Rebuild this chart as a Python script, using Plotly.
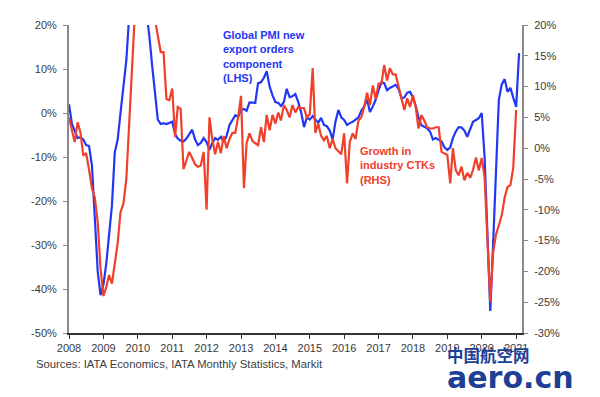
import pandas as pd
import plotly.graph_objects as go

# Global PMI new export orders component, % (LHS), monthly Jan 2008 - Feb 2021
pmi_export = [
    2, -2.5, -4, -5.7, -5.5, -6, -7.3, -7.5, -12, -24, -36, -41.4,
    -39, -34, -28, -21, -9, -6, 0, 5.5, 12, 22, 28, 32,
    33, 31, 28, 23, 18, 11, 5, -1.5, -2.5, -2.3, -2.5, -2.2,
    -2, -4.8, -5.8, -6.3, -6.5, -5.8, -4.8, -3.8, -6, -7.3, -6.8, -5.7,
    -6.6, -8.4, -6.8, -5.7, -6.1, -5.4, -6.6, -5.2, -2.7, -1.6, -0.5, -0.9,
    0.7, 0.9, 0.5, 2.4, 2.3, 2.3, 6.8, 7, 8, 9.5, 6, 4,
    2.5, 2.3, 1.6, 2.5, 5.5, 3.6, 3.8, 4.3, 2.5, 0.2, -3.2, -1,
    -1.5, -0.7, -1.5, -2.2, -1.1, -2.7, -3, -4, -6, -2, 0.7, -1,
    -1.6, -2.7, -2.3, -2, -1.5, -1, 0.5, 1.5, 3, 0.2, 1.5, 3,
    5.2, 7, 6.8, 5.2, 5.7, 6, 6.4, 5.5, 3.4, 3.5, 4.6, 4.8,
    3.6, 1.5, -1, -2.8, -3.2, -3.5, -4.2, -6, -5.7, -6.1, -6.5, -7.8,
    -8.4, -7.8, -5.7, -4.2, -3.2, -3.3, -4, -5.4, -3.4, -2, -1.6, -1.2,
    0, -10, -27, -45, -30, -14, 3, 6.5, 7.7, 4.8, 5.7, 3.5,
    1.4, 13.6,
]

# Growth in industry CTKs, % (RHS), monthly Jan 2008 - Jan 2021
ctk_growth = [
    5, 3, 1, 4.2, 2.6, -1.2, -0.8, -3.5, -6.5, -8, -12, -19.5,
    -24, -22.5, -20.6, -22, -18.7, -15.4, -10.4, -9, -5, 4, 13, 22,
    27, 28, 26, 25, 24, 23, 21, 18.5, 15.6, 15.6, 8, 7.8,
    9.7, 1.8, 6.7, 6.4, -3.4, -2, -0.6, -1.6, -2.6, -3, -2.8, -0.6,
    -10, 5, 1.5, -1, 1, -0.8, 2, 0, 1.5, 2.5, 2.5, 5,
    8.5, -6.5, 0.8, 2.4, 1.2, 0.8, 0.5, 3.4, 1, 5.4, 2.9, 5.4,
    4, 5.8, 4.5, 7, 6.2, 5, 7, 5.8, 6.7, 6.5, 6.5, 5,
    5.5, 13, 2.5, 4, 2, 1.3, 2, 0, 1.5, 0, -0.5, -1,
    2.4, -5.7, 1, 2.4, 1.5, 4.5, 5, 6.7, 9, 7, 10.2, 8,
    10.5, 10.5, 13.5, 11, 13, 12, 12, 10, 8, 6.2, 8.1, 6.7,
    8.6, 6.5, 3.2, 5.4, 4.5, 3.4, 3.2, 3.2, 3.4, 3.4, -0.6, -0.8,
    -1.1, -5.7, 0, -3.6, -4.4, -3, -5.2, -4, -4.8, -3.5, -1.5, -3.6,
    -1.6, -4.7, -15, -25, -17, -14, -12.5, -10.9, -8, -6.3, -6, -3.2,
    6.2,
]

year_ticks = list(range(2008, 2022))
lhs_ticks = [-50, -40, -30, -20, -10, 0, 10, 20]
rhs_ticks = [-30, -25, -20, -15, -10, -5, 0, 5, 10, 15, 20]

dates_pmi = pd.date_range("2008-01-01", periods=len(pmi_export), freq="MS")
dates_ctk = pd.date_range("2008-01-01", periods=len(ctk_growth), freq="MS")

BLUE = "#2236f5"
RED = "#f0402a"
AXIS_GREY = "#8a8a8a"
FONT = "Liberation Sans, Arial, sans-serif"

fig = go.Figure()
fig.add_trace(go.Scatter(x=dates_pmi, y=pmi_export, mode="lines",
                         line=dict(color=BLUE, width=2.2), yaxis="y",
                         name="Global PMI new export orders component (LHS)"))
fig.add_trace(go.Scatter(x=dates_ctk, y=ctk_growth, mode="lines",
                         line=dict(color=RED, width=2.2), yaxis="y2",
                         name="Growth in industry CTKs (RHS)"))

L, R, T, B = 69, 78, 25, 64
W, H = 600, 397
pw, ph = W - L - R, H - T - B


def px(xp):
    return (xp - L) / pw


def py(yp):
    return (H - B - yp) / ph


fig.update_layout(
    width=W, height=H,
    margin=dict(l=L, r=R, t=T, b=B, autoexpand=False),
    paper_bgcolor="white", plot_bgcolor="white",
    showlegend=False,
    font=dict(family=FONT, size=11, color="#3a3a3a"),
    xaxis=dict(
        type="date",
        range=["2008-01-01", "2021-03-04"],
        tickvals=[f"{y}-01-01" for y in year_ticks],
        ticktext=[str(y) for y in year_ticks],
        showline=True, linecolor="#333333", linewidth=1.5,
        ticks="outside", ticklen=4, tickcolor="#333333", tickwidth=1,
        showgrid=False, zeroline=False,
        tickfont=dict(family=FONT, size=11, color="#3a3a3a"),
    ),
    yaxis=dict(
        range=[-50, 20], tickvals=lhs_ticks,
        ticktext=[f"{v}%" for v in lhs_ticks],
        showline=True, linecolor=AXIS_GREY, linewidth=2,
        ticks="outside", ticklen=4, tickcolor=AXIS_GREY, tickwidth=1,
        showgrid=False, zeroline=False,
        ticklabelstandoff=4,
        tickfont=dict(family=FONT, size=11, color="#3a3a3a"),
    ),
    yaxis2=dict(
        range=[-30, 20], tickvals=rhs_ticks,
        ticktext=[f"{v}%" for v in rhs_ticks],
        overlaying="y", side="right",
        showline=True, linecolor=AXIS_GREY, linewidth=2,
        ticks="outside", ticklen=4, tickcolor=AXIS_GREY, tickwidth=1,
        showgrid=False, zeroline=False,
        ticklabelstandoff=4,
        tickfont=dict(family=FONT, size=11, color="#3a3a3a"),
    ),
    annotations=[
        dict(text="<b>Global PMI new<br>export orders<br>component<br>(LHS)</b>",
             xref="paper", yref="paper", x=px(221), y=py(56),
             xanchor="left", yanchor="middle", align="left", showarrow=False,
             font=dict(family=FONT, size=11, color=BLUE)),
        dict(text="<b>Growth in<br>industry CTKs<br>(RHS)</b>",
             xref="paper", yref="paper", x=px(358), y=py(165),
             xanchor="left", yanchor="middle", align="left", showarrow=False,
             font=dict(family=FONT, size=11, color=RED)),
        dict(text="Sources: IATA Economics, IATA Monthly Statistics, Markit",
             xref="paper", yref="paper", x=px(34), y=py(364),
             xanchor="left", yanchor="middle", align="left", showarrow=False,
             font=dict(family=FONT, size=11.3, color="#404040")),
        dict(text="<b>中国航空网</b>",
             xref="paper", yref="paper", x=px(445), y=py(355),
             xanchor="left", yanchor="middle", showarrow=False,
             font=dict(family="Noto Sans CJK SC", size=16.5, color="#1d3f94")),
        dict(text="<b>aero.cn</b>",
             xref="paper", yref="paper", x=px(446), y=py(377),
             xanchor="left", yanchor="middle", showarrow=False, borderpad=0,
             font=dict(family="DejaVu Sans, sans-serif", size=30, color="#1d3f94")),
    ],
)

fig.write_html("out.html",
               config={"displayModeBar": False},
               post_script="document.body.style.margin='0px';document.body.style.padding='0px';")
